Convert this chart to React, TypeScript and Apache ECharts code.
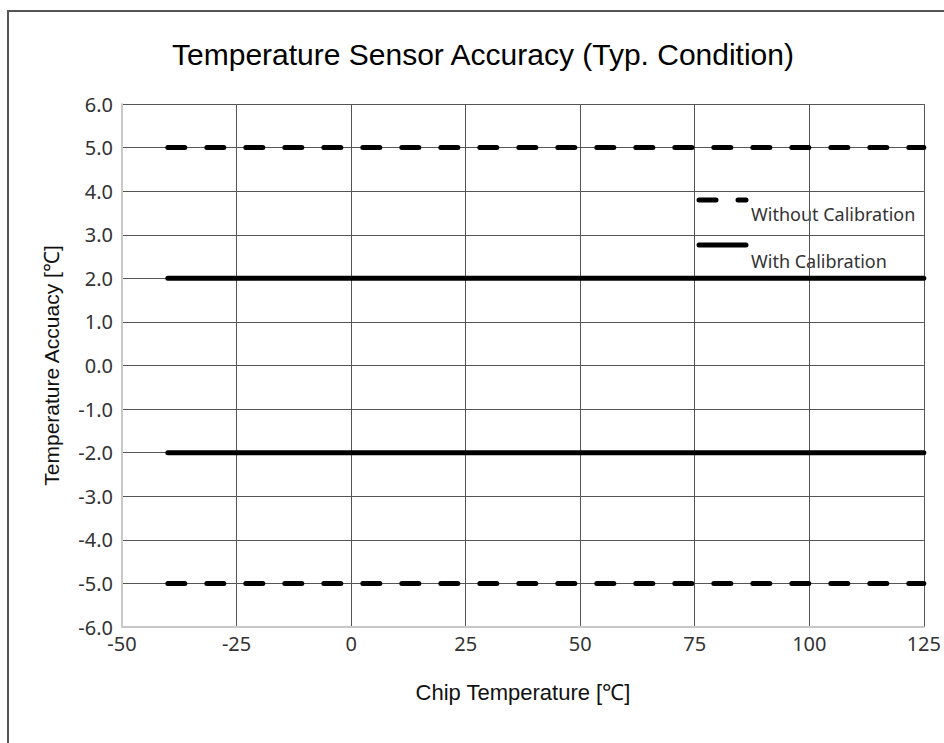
import React, { useEffect, useRef } from "react";
import * as echarts from "echarts";

const xRange = [-40, 125];
const withoutCalUpper = [5.0, 5.0];
const withoutCalLower = [-5.0, -5.0];
const withCalUpper = [2.0, 2.0];
const withCalLower = [-2.0, -2.0];
const legendNames = ["Without Calibration", "With Calibration"];

const toPairs = (ys: number[]) => xRange.map((x, i) => [x, ys[i]]);

export default function App() {
  const ref = useRef<HTMLDivElement>(null);
  useEffect(() => {
    if (!ref.current) return;
    const chart = echarts.init(ref.current, null, { renderer: "svg" });
    const dashed = {
      color: "#000",
      width: 5,
      type: [17, 22] as any,
      cap: "round" as const,
    };
    const solid = { color: "#000", width: 5, type: "solid" as const, cap: "round" as const };
    const mk = (name: string, ys: number[], ls: any) => ({
      name,
      type: "line",
      data: toPairs(ys),
      symbol: "none",
      lineStyle: ls,
      silent: true,
    });
    const tickFont = "Noto Sans, Open Sans, sans-serif";
    chart.setOption({
      animation: false,
      backgroundColor: "#fff",
      title: {
        text: "Temperature Sensor Accuracy (Typ. Condition)",
        left: 478,
        top: 34,
        textAlign: "center",
        textStyle: {
          fontFamily: "Liberation Sans, Arial, sans-serif",
          fontSize: 30,
          fontWeight: "normal",
          color: "#000",
        },
      },
      grid: { left: 122, top: 104, right: 19, bottom: 116, containLabel: false },
      xAxis: {
        type: "value",
        min: -50,
        max: 125,
        interval: 25,
        name: "Chip Temperature [℃]",
        nameLocation: "middle",
        nameGap: 54,
        nameTextStyle: {
          fontFamily: "Liberation Sans, Arial, sans-serif",
          fontSize: 22,
          color: "#111",
        },
        axisLine: { show: true, onZero: false, lineStyle: { color: "#c8c8c8", width: 2 } },
        axisTick: { show: false },
        axisLabel: {
          fontFamily: tickFont,
          fontSize: 20,
          color: "#333",
          margin: 6,
        },
        splitLine: { show: true, lineStyle: { color: "#555", width: 1 } },
      },
      yAxis: {
        type: "value",
        min: -6,
        max: 6,
        interval: 1,
        name: "Temperature Accuacy [℃]",
        nameLocation: "middle",
        nameGap: 60,
        nameRotate: 90,
        nameTextStyle: {
          fontFamily: "Liberation Sans, Arial, sans-serif",
          fontSize: 21,
          color: "#111",
        },
        axisLine: { show: true, onZero: false, lineStyle: { color: "#c8c8c8", width: 2 } },
        axisTick: { show: false },
        axisLabel: {
          fontFamily: tickFont,
          fontSize: 20,
          color: "#333",
          margin: 9,
          formatter: (v: number) => v.toFixed(1),
        },
        splitLine: { show: true, lineStyle: { color: "#555", width: 1 } },
      },
      series: [
        mk(legendNames[0], withoutCalUpper, dashed),
        mk(legendNames[0] + " ", withoutCalLower, dashed),
        mk(legendNames[1], withCalUpper, solid),
        mk(legendNames[1] + " ", withCalLower, solid),
      ],
      graphic: [
        {
          type: "rect",
          shape: { x: 8, y: 11, width: 1000, height: 1000 },
          style: { fill: "none", stroke: "#555", lineWidth: 2 },
          silent: true,
        },
        {
          type: "line",
          shape: { x1: 699, y1: 200, x2: 746, y2: 200 },
          style: { stroke: "#000", lineWidth: 5, lineDash: [17, 22], lineCap: "round" },
          silent: true,
        },
        {
          type: "text",
          x: 751,
          y: 214,
          style: {
            text: legendNames[0],
            fontFamily: tickFont,
            fontSize: 18,
            fill: "#333",
            verticalAlign: "middle",
          },
        },
        {
          type: "line",
          shape: { x1: 699, y1: 245, x2: 746, y2: 245 },
          style: { stroke: "#000", lineWidth: 5, lineCap: "round" },
          silent: true,
        },
        {
          type: "text",
          x: 751,
          y: 261,
          style: {
            text: legendNames[1],
            fontFamily: tickFont,
            fontSize: 18,
            fill: "#333",
            verticalAlign: "middle",
          },
        },
      ],
    });
    return () => chart.dispose();
  }, []);
  return (
    <div
      ref={ref}
      style={{ position: "fixed", left: 0, top: 0, width: 944, height: 743 }}
    />
  );
}
